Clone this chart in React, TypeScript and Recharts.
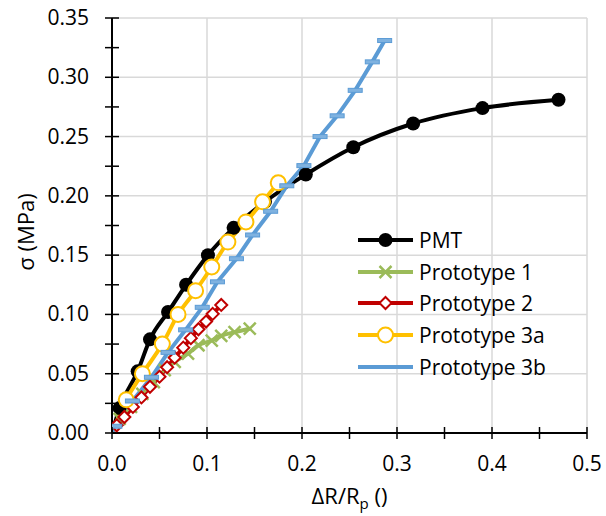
import React from 'react';
import { LineChart, Line, XAxis, YAxis, ReferenceLine } from 'recharts';

// Series (ΔR/Rp vs σ in MPa)
const pmtX = [0, 0.008, 0.027, 0.040, 0.059, 0.078, 0.101, 0.128, 0.161, 0.204, 0.254, 0.317, 0.390, 0.470];
const pmtY = [0, 0.021, 0.052, 0.079, 0.102, 0.125, 0.150, 0.173, 0.195, 0.218, 0.241, 0.261, 0.274, 0.281];

const p1X = [0, 0.008, 0.020, 0.032, 0.044, 0.0555, 0.066, 0.080, 0.091, 0.105, 0.115, 0.129, 0.145];
const p1Y = [0, 0.012, 0.022, 0.033, 0.043, 0.053, 0.060, 0.067, 0.074, 0.078, 0.082, 0.085, 0.088];

const p2X = [0, 0.005, 0.013, 0.022, 0.031, 0.040, 0.050, 0.058, 0.066, 0.075, 0.083, 0.091, 0.099, 0.106, 0.115];
const p2Y = [0, 0.0065, 0.0135, 0.022, 0.030, 0.039, 0.0475, 0.0555, 0.0635, 0.072, 0.080, 0.0875, 0.094, 0.1005, 0.108];

const p3aX = [0, 0.015, 0.032, 0.053, 0.0695, 0.088, 0.105, 0.122, 0.141, 0.1585, 0.175];
const p3aY = [0, 0.028, 0.050, 0.075, 0.100, 0.120, 0.140, 0.161, 0.178, 0.195, 0.211];

const p3bX = [0, 0.003, 0.0215, 0.0415, 0.059, 0.0775, 0.095, 0.111, 0.131, 0.148, 0.167, 0.184, 0.202, 0.219, 0.237, 0.256, 0.274, 0.287];
const p3bY = [0, 0.0057, 0.027, 0.047, 0.068, 0.087, 0.106, 0.1275, 0.147, 0.167, 0.187, 0.2085, 0.2255, 0.250, 0.2675, 0.289, 0.313, 0.331];

const seriesNames = ['PMT', 'Prototype 1', 'Prototype 2', 'Prototype 3a', 'Prototype 3b'];
const seriesColors = ['#000000', '#9BBB59', '#C00000', '#FFC000', '#5B9BD5'];
const seriesCurves = ['monotone', 'monotone', 'linear', 'monotone', 'linear'] as const;

const xTicks = [0, 0.05, 0.1, 0.15, 0.2, 0.25, 0.3, 0.35, 0.4, 0.45, 0.5];
const yTicks = [0, 0.025, 0.05, 0.075, 0.1, 0.125, 0.15, 0.175, 0.2, 0.225, 0.25, 0.275, 0.3, 0.325, 0.35];
const xGrid = [0.1, 0.2, 0.3, 0.4, 0.5];
const yGrid = [0.05, 0.1, 0.15, 0.2, 0.25, 0.3, 0.35];

const FONT = '"Open Sans", "Noto Sans", sans-serif';

const toPoints = (xs: number[], ys: number[]) => xs.map((x, i) => ({ x, y: ys[i] }));

const pmtData = toPoints(pmtX, pmtY);
const p1Data = toPoints(p1X, p1Y);
const p2Data = toPoints(p2X, p2Y);
const p3aData = toPoints(p3aX, p3aY);
const p3bData = toPoints(p3bX, p3bY);

// marker shapes, shared by the lines and the legend
const Marker = ({ kind, cx, cy }: { kind: number; cx: number; cy: number }) => {
  const c = seriesColors[kind];
  if (kind === 0) return <circle cx={cx} cy={cy} r={7} fill={c} />;
  if (kind === 1) {
    const s = 6;
    return (
      <g stroke={c} strokeWidth={2.5}>
        <line x1={cx - s} y1={cy - s} x2={cx + s} y2={cy + s} />
        <line x1={cx - s} y1={cy + s} x2={cx + s} y2={cy - s} />
      </g>
    );
  }
  if (kind === 2) {
    const s = 6;
    return (
      <polygon
        points={`${cx},${cy - s} ${cx + s},${cy} ${cx},${cy + s} ${cx - s},${cy}`}
        fill="#fff"
        stroke={c}
        strokeWidth={2}
      />
    );
  }
  if (kind === 3) return <circle cx={cx} cy={cy} r={7.5} fill="#fff" stroke={c} strokeWidth={2} />;
  return <rect x={cx - 7} y={cy - 2} width={14} height={4} fill="#7FB2E0" stroke={c} strokeWidth={1} />;
};

// the curves start at the origin, where no marker is drawn
const makeDot = (kind: number) => (props: any) => {
  const { cx, cy, index } = props;
  if (cx == null || cy == null || index === 0) return <g key={`d-${kind}-${index}`} />;
  return (
    <g key={`d-${kind}-${index}`}>
      <Marker kind={kind} cx={cx} cy={cy} />
    </g>
  );
};

const isMajor = (v: number, step: number) => Math.abs(v / step - Math.round(v / step)) < 1e-6;

const XTick = (props: any) => {
  const { x, y, payload } = props;
  const v = payload.value as number;
  return (
    <g>
      <line x1={x} x2={x} y1={y - 6} y2={y + 6} stroke="#000" strokeWidth={1.5} />
      {isMajor(v, 0.1) && (
        <text x={x} y={y + 38} textAnchor="middle" fontSize={21} fontFamily={FONT} fill="#000">
          {v.toFixed(1)}
        </text>
      )}
    </g>
  );
};

const YTick = (props: any) => {
  const { x, y, payload } = props;
  const v = payload.value as number;
  return (
    <g>
      <line x1={x - 7} x2={x + 7} y1={y} y2={y} stroke="#000" strokeWidth={1.5} />
      {isMajor(v, 0.05) && (
        <text x={x - 23} y={y + 7} textAnchor="end" fontSize={21} fontFamily={FONT} fill="#000">
          {v.toFixed(2)}
        </text>
      )}
    </g>
  );
};

const XTitle = (props: any) => {
  const { viewBox } = props;
  return (
    <text
      x={viewBox.x + viewBox.width / 2}
      y={viewBox.y + 71}
      textAnchor="middle"
      fontSize={22}
      fontFamily={FONT}
      fill="#000"
    >
      ΔR/R<tspan fontSize={15} dy={5}>p</tspan>
      <tspan dy={-5}> ()</tspan>
    </text>
  );
};

const YTitle = () => (
  <text
    x={25}
    y={232}
    transform="rotate(-90, 25, 232)"
    textAnchor="middle"
    dominantBaseline="central"
    fontSize={22}
    fontFamily={FONT}
    fill="#000"
  >
    σ (MPa)
  </text>
);

const ChartLegend = () => (
  <div style={{ position: 'absolute', left: 357, top: 224, fontFamily: FONT, fontSize: 21 }}>
    {seriesNames.map((name, i) => (
      <div key={name} style={{ display: 'flex', alignItems: 'center', height: 31.7 }}>
        <svg width={58} height={20} style={{ marginRight: 4 }}>
          <line x1={1} x2={56} y1={10} y2={10} stroke={seriesColors[i]} strokeWidth={4} />
          {i < 4 && <Marker kind={i} cx={28.5} cy={10} />}
        </svg>
        <span>{name}</span>
      </div>
    ))}
  </div>
);

const App: React.FC = () => {
  const lines = [pmtData, p1Data, p2Data, p3aData, p3bData];
  return (
    <div style={{ position: 'fixed', left: 0, top: 0, width: 606, height: 516, background: '#fff' }}>
      <LineChart width={606} height={516} margin={{ top: 18, right: 19, bottom: 23, left: 32 }}>
        <XAxis
          dataKey="x"
          type="number"
          domain={[0, 0.5]}
          ticks={xTicks}
          interval={0}
          height={60}
          tickSize={0}
          tickMargin={0}
          tick={XTick}
          tickLine={false}
          axisLine={{ stroke: '#000', strokeWidth: 2 }}
          allowDataOverflow
          label={{ content: XTitle }}
        />
        <YAxis
          dataKey="y"
          type="number"
          domain={[0, 0.35]}
          ticks={yTicks}
          interval={0}
          width={80}
          tickSize={0}
          tickMargin={0}
          tick={YTick}
          tickLine={false}
          axisLine={{ stroke: '#000', strokeWidth: 2 }}
          allowDataOverflow
          label={{ content: YTitle }}
        />
        {xGrid.map((v) => (
          <ReferenceLine key={`gx-${v}`} x={v} stroke="#D9D9D9" strokeWidth={1.5} />
        ))}
        {yGrid.map((v) => (
          <ReferenceLine key={`gy-${v}`} y={v} stroke="#D9D9D9" strokeWidth={1.5} />
        ))}
        {lines.map((d, i) => (
          <Line
            key={seriesNames[i]}
            data={d}
            dataKey="y"
            name={seriesNames[i]}
            type={seriesCurves[i]}
            stroke={seriesColors[i]}
            strokeWidth={4}
            strokeLinejoin="round"
            dot={makeDot(i)}
            activeDot={false}
            isAnimationActive={false}
          />
        ))}
      </LineChart>
      <ChartLegend />
    </div>
  );
};

export default App;
